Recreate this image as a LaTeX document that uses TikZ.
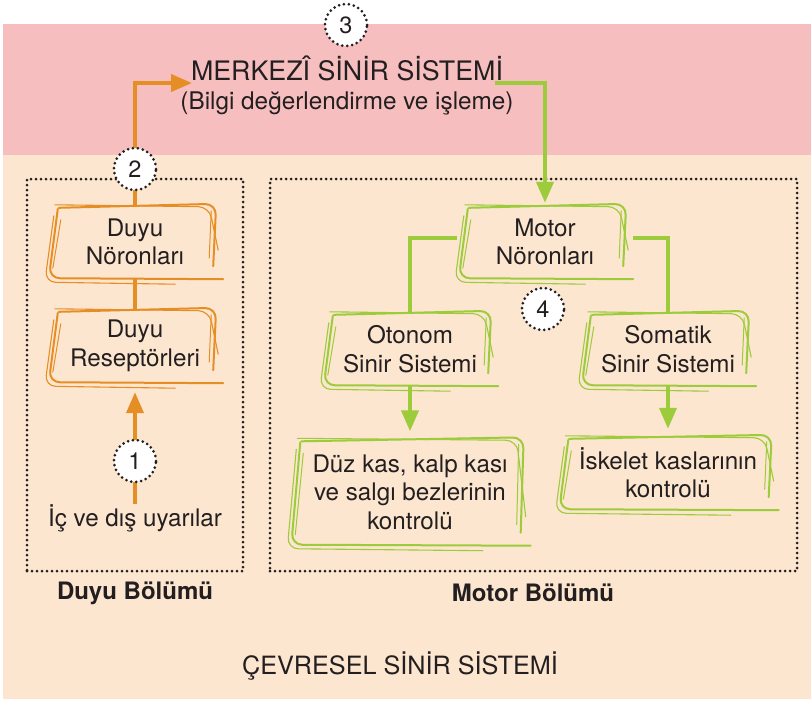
\documentclass[tikz,border=0pt]{standalone}
\usepackage{fontspec}
\setmainfont{TeX Gyre Heros}
\usetikzlibrary{arrows.meta,calc}
\definecolor{pinkbg}{HTML}{F7BEBF}
\definecolor{peachbg}{HTML}{FDE6CF}
\definecolor{orng}{HTML}{E58E26}
\definecolor{grn}{HTML}{9CCB3B}
\definecolor{ink}{HTML}{231F20}
\newcommand{\skbox}[2]{%
  \begin{scope}[draw=#2, rounded corners=11pt, line cap=round]
    % top + right (main)
    \draw[line width=2pt] ($(#1.north west)+(4,2)$) -- ($(#1.north east)+(1,-2)$) -- ($(#1.south east)+(-2,-12)$);
    % second top stroke
    \draw[line width=1.1pt] ($(#1.north west)+(0,-1)$) -- ($(#1.north east)+(-6,1)$) -- ($(#1.south east)+(3,-28)$);
    % left + bottom (main)
    \draw[line width=2pt] ($(#1.north west)+(3,3)$) -- ($(#1.south west)+(-6,0)$) -- ($(#1.south east)+(8,1)$);
    % second left + bottom stroke, outside
    \draw[line width=1.1pt] ($(#1.north west)+(-1,10)$) -- ($(#1.south west)+(-10,4)$) -- ($(#1.south east)+(-40,6)$);
    % extra right stroke
    \draw[line width=1pt] ($(#1.north east)+(-4,5)$) -- ($(#1.south east)+(-6,-20)$);
    % extra left stroke
    \draw[line width=1pt] ($(#1.north west)+(6,14)$) -- ($(#1.south west)+(-2,-10)$);
  \end{scope}}
\begin{document}
\begin{tikzpicture}[x=1pt,y=-1pt,
  txt/.style={font=\fontsize{24.2}{28.5}\selectfont, text=ink, align=center, inner sep=0pt},
  sbox/.style={txt, minimum width=160pt, minimum height=72pt},
  dots/.style={draw=ink, line width=3pt, dash pattern=on 0pt off 5pt, line cap=round},
  numc/.style={circle, dots, fill=white, minimum size=42pt, inner sep=0pt, font=\fontsize{23.5}{23.5}\selectfont, text=ink},
  oline/.style={draw=orng, line width=4pt},
  gline/.style={draw=grn, line width=4pt},
  oarr/.style={oline, -{Triangle[length=21pt,width=17pt]}},
  garr/.style={gline, -{Triangle[length=21pt,width=17pt]}}]
\useasboundingbox (0,0) rectangle (811,704);
\fill[white] (0,0) rectangle (811,704);
\fill[pinkbg] (3,24) rectangle (811,155);
\fill[peachbg] (3,155) rectangle (811,699);

% dotted section frames
\node[dots, minimum width=216pt, minimum height=392pt, inner sep=0pt] (duyuframe) at (135,375) {};
\node[dots, minimum width=527pt, minimum height=392pt, inner sep=0pt] (motorframe) at (533.5,375) {};

% titles
\node[txt, font=\fontsize{26.8}{30}\selectfont] (cns) at (347,68) {MERKEZÎ SİNİR SİSTEMİ};
\node[txt, font=\fontsize{24.3}{28}\selectfont] (cnssub) at (347,103) {(Bilgi değerlendirme ve işleme)};
\node[txt, font=\fontsize{25.2}{30}\selectfont] (pns) at (400,666) {ÇEVRESEL SİNİR SİSTEMİ};
\node[txt, font=\bfseries\fontsize{24}{28}\selectfont] (duyul) at (135,593) {Duyu Bölümü};
\node[txt, font=\bfseries\fontsize{24}{28}\selectfont] (motorl) at (533,593) {Motor Bölümü};

% boxes
\node[sbox] (dn) at (135,242) {Duyu\\Nöronları};
\node[sbox] (dr) at (135,346) {Duyu\\Reseptörleri};
\node[txt] (uy) at (135,518) {İç ve dış uyarılar};
\node[sbox] (mn) at (545,242) {Motor\\Nöronları};
\node[sbox] (ot) at (410,349) {Otonom\\Sinir Sistemi};
\node[sbox] (so) at (668,349) {Somatik\\Sinir Sistemi};
\node[sbox, minimum width=225pt, minimum height=105pt] (dk) at (410,492) {Düz kas, kalp kası\\ve salgı bezlerinin\\kontrolü};
\node[sbox, minimum width=205pt, minimum height=72pt] (is) at (668,473) {İskelet kaslarının\\kontrolü};

\coordinate (inA) at (192,83);
\coordinate (outA) at (495,83);

% connectors
\draw[oarr, shorten >=10pt] (uy.north) -- (dr.south);
\draw[oline] (dr.north) -- (dn.south);
\draw[oarr] (dn.north) |- (inA);
\draw[garr, shorten >=3pt] (outA) -| (mn.north);
\draw[gline] ($(mn.west)+(-8,-4)$) -| (ot.north);
\draw[gline] ($(mn.east)+(8,-4)$) -| (so.north);
\draw[garr, shorten >=8pt] (ot.south) -- (dk.north);
\draw[garr, shorten >=8pt] (so.south) -- (is.north);

% sketch frames
\skbox{dn}{orng}
\skbox{dr}{orng}
\skbox{mn}{grn}
\skbox{ot}{grn}
\skbox{so}{grn}
\skbox{dk}{grn}
\skbox{is}{grn}

% number circles
\node[numc] (n1) at (135,461) {1};
\node[numc] (n2) at (135,169) {2};
\node[numc] (n3) at (346,25) {3};
\node[numc] (n4) at (543,309) {4};
\end{tikzpicture}
\end{document}
